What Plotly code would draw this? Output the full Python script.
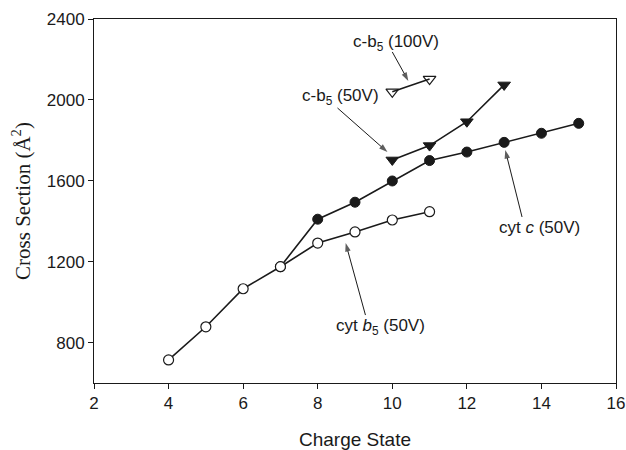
import plotly.graph_objects as go

# Data
b5_x = [4, 5, 6, 7, 8, 9, 10, 11]
b5_y = [714, 878, 1066, 1175, 1292, 1347, 1406, 1447]

cytc_x = [7, 8, 9, 10, 11, 12, 13, 14, 15]
cytc_y = [1175, 1410, 1494, 1599, 1700, 1742, 1790, 1835, 1884]

cb5_50_x = [10, 11, 12, 13]
cb5_50_y = [1703, 1774, 1892, 2074]

cb5_100_x = [10, 11]
cb5_100_y = [2040, 2103]

x_ticks = [2, 4, 6, 8, 10, 12, 14, 16]
y_ticks = [800, 1200, 1600, 2000, 2400]

INK = "#1a1a1a"
SANS = "Liberation Sans, Arial, sans-serif"
SERIF = "Liberation Serif, Times New Roman, serif"

fig = go.Figure()

fig.add_trace(go.Scatter(
    x=cytc_x, y=cytc_y, mode="lines+markers", name="cyt c (50V)",
    line=dict(color=INK, width=1.6),
    marker=dict(symbol="circle", size=10, color=INK, line=dict(color=INK, width=1)),
))
fig.add_trace(go.Scatter(
    x=b5_x, y=b5_y, mode="lines+markers", name="cyt b5 (50V)",
    line=dict(color=INK, width=1.6),
    marker=dict(symbol="circle", size=10, color="white", line=dict(color=INK, width=1.2)),
))
fig.add_trace(go.Scatter(
    x=cb5_50_x, y=cb5_50_y, mode="lines+markers", name="c-b5 (50V)",
    line=dict(color=INK, width=1.6),
    marker=dict(symbol="triangle-down", size=11, color=INK, line=dict(color=INK, width=1)),
))
fig.add_trace(go.Scatter(
    x=cb5_100_x, y=cb5_100_y, mode="lines+markers", name="c-b5 (100V)",
    line=dict(color=INK, width=1.6),
    marker=dict(symbol="triangle-down-open", size=11, color=INK, line=dict(color=INK, width=1.2)),
))

# Labels
labels = [
    ("c-b<sub>5</sub> (100V)", 10.11, 2281),
    ("c-b<sub>5</sub> (50V)", 8.61, 2014),
    ("cyt <i>c</i> (50V)", 13.96, 1371),
    ("cyt <i>b</i><sub>5</sub> (50V)", 9.68, 877),
]
for txt, lx, ly in labels:
    fig.add_annotation(x=lx, y=ly, xref="x", yref="y", text=txt, showarrow=False,
                       font=dict(family=SANS, size=17, color=INK))

# Pointer arrows (tail -> tip), drawn as line traces with arrow-head markers
arrows = [
    ((10.00, 2237), (10.43, 2094)),
    ((8.53, 1960), (9.87, 1742)),
    ((13.48, 1421), (13.03, 1752)),
    ((9.28, 936), (8.75, 1292)),
]
for (tx, ty), (hx, hy) in arrows:
    fig.add_trace(go.Scatter(
        x=[tx, hx], y=[ty, hy], mode="lines+markers", hoverinfo="skip",
        line=dict(color=INK, width=1),
        marker=dict(symbol=["circle", "arrow"], size=[0, 9], color=INK,
                    angleref="previous", line=dict(width=0)),
    ))

fig.update_layout(
    width=626, height=450,
    margin=dict(l=94, r=10, t=19, b=67),
    paper_bgcolor="white", plot_bgcolor="white",
    showlegend=False,
)
fig.update_xaxes(
    range=[2, 16], tickvals=x_ticks, ticks="outside", ticklen=5, tickcolor=INK,
    showline=True, linecolor=INK, linewidth=1, mirror=True, showgrid=False, zeroline=False,
    automargin=False,
    tickfont=dict(family=SANS, size=17, color=INK),
    title=dict(text="Charge State", font=dict(family=SANS, size=19, color=INK), standoff=21),
)
fig.update_yaxes(
    range=[600, 2400], tickvals=y_ticks, ticks="outside", ticklen=5, tickcolor=INK,
    showline=True, linecolor=INK, linewidth=1, mirror=True, showgrid=False, zeroline=False,
    automargin=False,
    tickfont=dict(family=SANS, size=17, color=INK),
    title=dict(text="Cross Section (Å<sup>2</sup>)", font=dict(family=SERIF, size=21, color=INK), standoff=10),
)

fig.write_html("out.html")
